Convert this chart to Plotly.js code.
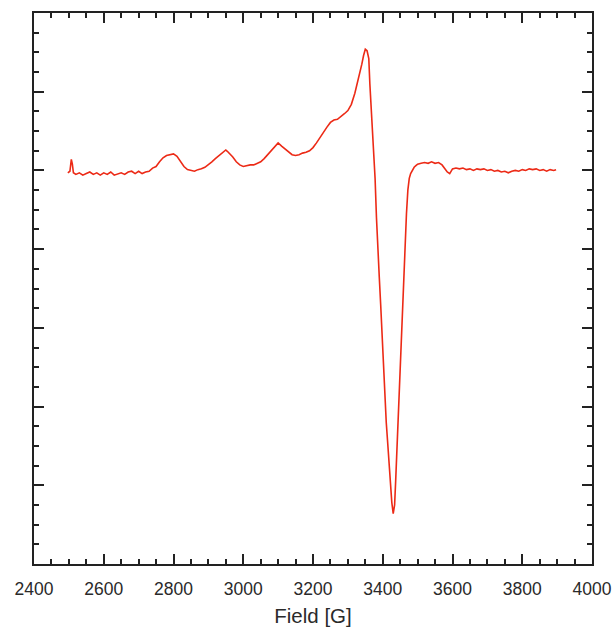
<!DOCTYPE html>
<html>
<head>
<meta charset="utf-8">
<script src="https://cdn.plot.ly/plotly-3.0.1.min.js"></script>
<style>html,body{margin:0;padding:0;background:#fff;}#chart{width:613px;height:628px;}</style>
</head>
<body>
<div id="chart"></div>
<script>
// Magnetic field [G]
const field = [
 2497, 2503, 2507, 2510, 2513, 2520, 2530, 2540, 2550, 2560, 2570, 2580, 2590, 2600,
 2610, 2620, 2630, 2640, 2650, 2660, 2670, 2680, 2690, 2700, 2710, 2720, 2730, 2740,
 2750, 2760, 2770, 2780, 2790, 2800, 2810, 2820, 2830, 2840, 2850, 2860, 2870, 2880,
 2890, 2900, 2910, 2920, 2930, 2940, 2950, 2955, 2960, 2970, 2980, 2990, 3000, 3010,
 3020, 3030, 3040, 3050, 3060, 3070, 3080, 3090, 3100, 3110, 3120, 3130, 3140, 3150,
 3160, 3170, 3180, 3190, 3200, 3210, 3220, 3230, 3240, 3250, 3260, 3270, 3280, 3290,
 3300, 3310, 3320, 3330, 3340, 3345, 3350, 3355, 3360, 3363, 3367, 3371, 3375, 3378,
 3382, 3386, 3390, 3394, 3398, 3402, 3406, 3410, 3414, 3418, 3422, 3426, 3430, 3434,
 3437, 3440, 3444, 3448, 3452, 3456, 3460, 3464, 3468, 3472, 3476, 3480, 3485, 3490,
 3495, 3500, 3510, 3520, 3530, 3540, 3550, 3560, 3570, 3578, 3585, 3592, 3600, 3610,
 3620, 3630, 3640, 3650, 3660, 3670, 3680, 3690, 3700, 3710, 3720, 3730, 3740, 3750,
 3760, 3770, 3780, 3790, 3800, 3810, 3820, 3830, 3840, 3850, 3860, 3870, 3880, 3890, 3897
];
// EPR derivative signal (arb. units)
const signal = [
 -0.03, -0.01, 0.14, 0.08, -0.03, -0.05, -0.03, -0.06, -0.04, -0.02, -0.05, -0.03, -0.06, -0.03,
 -0.05, -0.02, -0.06, -0.04, -0.03, -0.05, -0.02, -0.01, -0.04, -0.01, -0.04, -0.02, -0.01, 0.03,
 0.05, 0.11, 0.16, 0.19, 0.20, 0.21, 0.18, 0.12, 0.05, 0.01, 0.00, -0.01, 0.01, 0.02,
 0.04, 0.07, 0.11, 0.15, 0.19, 0.22, 0.26, 0.24, 0.22, 0.17, 0.11, 0.07, 0.05, 0.06,
 0.07, 0.07, 0.09, 0.11, 0.15, 0.20, 0.26, 0.31, 0.35, 0.31, 0.27, 0.23, 0.20, 0.19,
 0.20, 0.22, 0.23, 0.25, 0.29, 0.35, 0.42, 0.48, 0.55, 0.61, 0.64, 0.65, 0.68, 0.72,
 0.76, 0.84, 0.98, 1.15, 1.35, 1.46, 1.54, 1.52, 1.42, 1.10, 0.80, 0.50, 0.20, -0.10,
 -0.60, -1.05, -1.35, -1.70, -2.10, -2.60, -2.95, -3.20, -3.45, -3.70, -4.00, -4.22, -4.36, -4.25,
 -3.95, -3.60, -3.20, -2.70, -2.25, -1.75, -1.30, -0.95, -0.55, -0.25, -0.10, -0.04, 0.00, 0.04,
 0.06, 0.08, 0.09, 0.10, 0.09, 0.11, 0.09, 0.10, 0.07, 0.02, -0.02, -0.04, 0.02, 0.03,
 0.02, 0.03, 0.01, 0.02, 0.00, 0.02, 0.01, 0.02, 0.00, 0.01, -0.01, 0.00, -0.02, -0.01,
 -0.03, -0.01, 0.00, -0.01, 0.01, 0.00, 0.02, 0.01, 0.02, 0.00, 0.01, -0.01, 0.01, 0.00, 0.01
];
const xTickVals = [2400, 2600, 2800, 3000, 3200, 3400, 3600, 3800, 4000];

const axisCommon = {
  showline: true, linecolor: '#222', linewidth: 2, mirror: 'ticks',
  ticks: 'inside', ticklen: 10, tickwidth: 2, tickcolor: '#222',
  showgrid: false, zeroline: false
};

const trace = {
  x: field, y: signal, type: 'scatter', mode: 'lines',
  line: {color: 'rgb(236,42,22)', width: 1.6},
  hoverinfo: 'skip'
};

const layout = {
  width: 613, height: 628,
  margin: {l: 34, r: 21, t: 13, b: 64},
  paper_bgcolor: '#fff', plot_bgcolor: '#fff',
  showlegend: false,
  font: {family: 'Liberation Sans, Arial, sans-serif', color: '#333', size: 17},
  xaxis: Object.assign({}, axisCommon, {
    range: [2400, 4000], tickvals: xTickVals, ticktext: xTickVals.map(String),
    tickfont: {size: 17.5, color: '#2a2a2a'},
    ticklabelstandoff: 8,
    minor: {dtick: 50, ticks: 'inside', ticklen: 5, tickwidth: 2, tickcolor: '#222', showgrid: false},
    title: {text: 'Field [G]', font: {size: 20.5, color: '#2a2a2a'}, standoff: 11}
  }),
  yaxis: Object.assign({}, axisCommon, {
    range: [-5, 2], dtick: 1, tick0: 0, showticklabels: false,
    minor: {dtick: 0.25, ticks: 'inside', ticklen: 5, tickwidth: 2, tickcolor: '#222', showgrid: false}
  })
};

Plotly.newPlot('chart', [trace], layout, {displayModeBar: false, staticPlot: true});
</script>
</body>
</html>
